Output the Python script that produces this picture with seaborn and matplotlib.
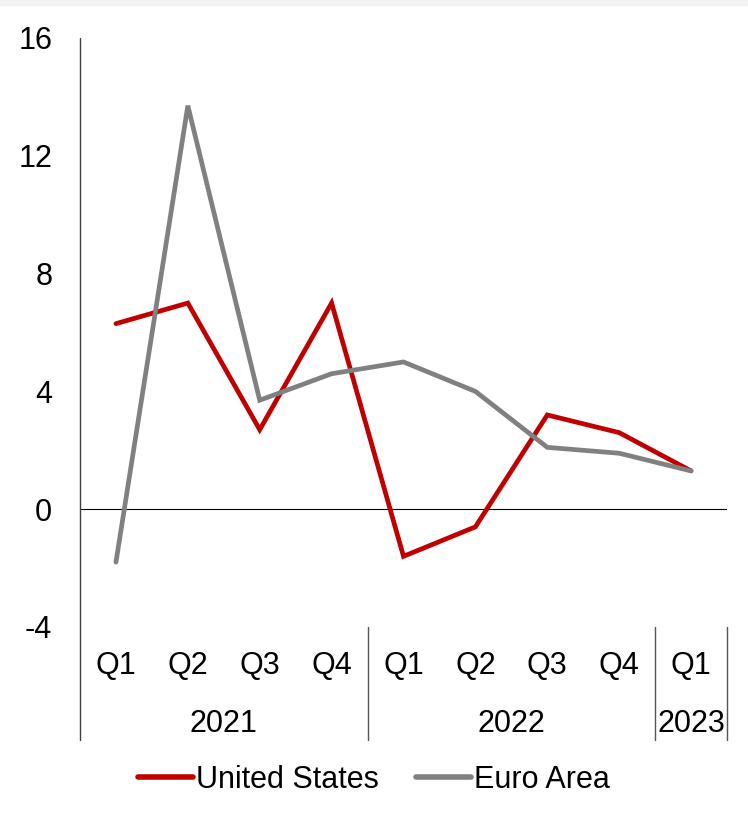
import pandas as pd
import matplotlib.pyplot as plt
import matplotlib.transforms as mtransforms
import seaborn as sns

# Quarterly data
quarters = ['Q1', 'Q2', 'Q3', 'Q4', 'Q1', 'Q2', 'Q3', 'Q4', 'Q1']
years = ['2021', '2022', '2023']
year_spans = [(0, 3), (4, 7), (8, 8)]
us_values = [6.3, 7.0, 2.7, 7.0, -1.6, -0.6, 3.2, 2.6, 1.3]
euro_values = [-1.8, 13.7, 3.7, 4.6, 5.0, 4.0, 2.1, 1.9, 1.3]
y_ticks = [-4, 0, 4, 8, 12, 16]

sns.set_style('white')
plt.rcParams['font.family'] = ['Liberation Sans', 'DejaVu Sans']
plt.rcParams['text.color'] = 'black'
plt.rcParams['ytick.color'] = 'black'
plt.rcParams['ytick.labelcolor'] = 'black'
fs = 22

df = pd.DataFrame({
    'x': list(range(len(quarters))) * 2,
    'value': us_values + euro_values,
    'series': ['United States'] * len(us_values) + ['Euro Area'] * len(euro_values),
})

fig = plt.figure(figsize=(7.48, 8.19), dpi=100)
fig.patches.append(plt.Rectangle((0, 1 - 5 / 819), 1, 5 / 819, transform=fig.transFigure,
                                 color='#f2f2f2', zorder=0))
ax = fig.add_axes([80 / 748, 1 - 627 / 819, (727 - 80) / 748, (627 - 38) / 819])

sns.lineplot(data=df, x='x', y='value', hue='series',
             palette={'United States': '#c00000', 'Euro Area': '#808080'},
             linewidth=3.4, ax=ax, legend=False, solid_capstyle='round',
             solid_joinstyle='miter')

ax.set_xlim(-0.5, len(quarters) - 0.5)
ax.set_ylim(-4, 16)
ax.set_yticks(y_ticks)
ax.set_yticklabels([str(t) for t in y_ticks], fontsize=fs, color='black')
ax.tick_params(axis='y', length=0, pad=20)
ax.set_xticks([])
ax.set_xlabel('')
ax.set_ylabel('')
for s in ['top', 'right', 'bottom', 'left']:
    ax.spines[s].set_visible(False)
ax.axhline(0, color='black', linewidth=0.8, zorder=1)

trans = mtransforms.blended_transform_factory(ax.transData, ax.transAxes)
# left axis line extended through the category area
ax.plot([-0.5, -0.5], [1, -0.192], transform=trans, color='#404040', linewidth=1, clip_on=False)
for i, q in enumerate(quarters):
    ax.text(i, -0.066, q, transform=trans, ha='center', va='center', fontsize=fs, color='black')
for yr, (a, b) in zip(years, year_spans):
    ax.text((a + b) / 2, -0.164, yr, transform=trans, ha='center', va='center', fontsize=fs,
            color='black')
for xs in [3.5, 7.5, 8.5]:
    ax.plot([xs, xs], [0, -0.192], transform=trans, color='#555555', linewidth=1, clip_on=False)

handles = [plt.Line2D([], [], color='#c00000', linewidth=4, solid_capstyle='round'),
           plt.Line2D([], [], color='#808080', linewidth=4, solid_capstyle='round')]
leg = fig.legend(handles, ['United States', 'Euro Area'], loc='center',
                 bbox_to_anchor=(0.5, 1 - 780 / 819), ncol=2, frameon=False, fontsize=fs,
                 handlelength=1.8, handletextpad=0.1, columnspacing=1.2)
for t in leg.get_texts():
    t.set_color('black')

fig.savefig('out.png', dpi=100)
